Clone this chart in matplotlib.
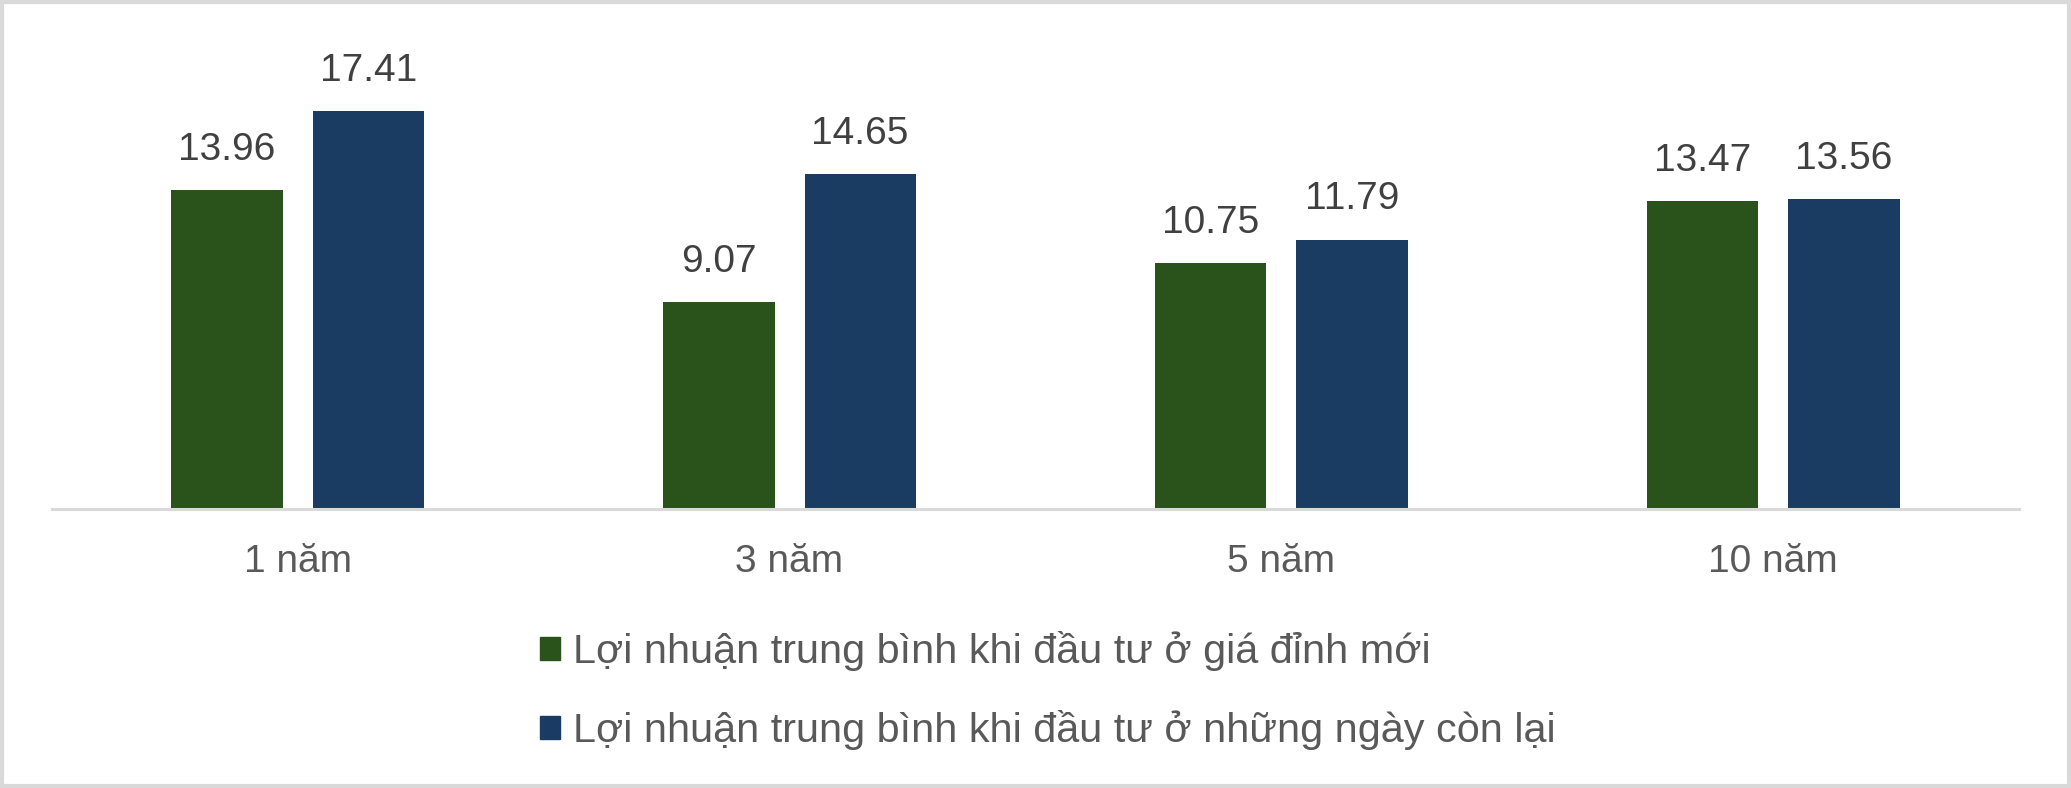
import matplotlib
matplotlib.use("Agg")
import matplotlib.pyplot as plt
from matplotlib.patches import Patch, Rectangle
import numpy as np

plt.rcParams['font.family'] = ['Liberation Sans', 'DejaVu Sans']

categories = ["1 năm", "3 năm", "5 năm", "10 năm"]
series_names = ["Lợi nhuận trung bình khi đầu tư ở giá đỉnh mới",
                "Lợi nhuận trung bình khi đầu tư ở những ngày còn lại"]
peak_values = [13.96, 9.07, 10.75, 13.47]
other_values = [17.41, 14.65, 11.79, 13.56]
colors = ["#29531a", "#1a3c62"]

W, H = 2071, 788
fig = plt.figure(figsize=(W/100, H/100), dpi=100)
left, right, base, top = 51.7, 2019.3, 509, 52
ax = fig.add_axes([left/W, 1-base/H, (right-left)/W, (base-top)/H])

x = np.arange(len(categories))
w = 0.226
gap = 0.061
off = (w + gap) / 2
for vals, col, sgn in [(peak_values, colors[0], -1), (other_values, colors[1], 1)]:
    bars = ax.bar(x + sgn*off, vals, width=w, color=col)
    for b, v in zip(bars, vals):
        ax.annotate(f"{v:.2f}", (b.get_x()+b.get_width()/2, v), xytext=(0, 16),
                    textcoords="offset points", ha="center", va="bottom",
                    fontsize=28, color="#404040")

ax.set_xlim(-0.5, len(categories)-0.5)
ax.set_ylim(0, 20)
ax.set_xticks(x)
ax.set_xticklabels(categories, fontsize=28, color="#595959")
ax.tick_params(axis='x', length=0, pad=25)
ax.set_yticks([])
for s in ["top", "right", "left"]:
    ax.spines[s].set_visible(False)
ax.spines["bottom"].set_color("#d9d9d9")
ax.spines["bottom"].set_linewidth(2.2)

handles = [Patch(color=c) for c in colors]
leg = fig.legend(handles, series_names, loc="upper left", bbox_to_anchor=(540/W, 1-631/H),
                 frameon=False, fontsize=29.8, handlelength=0.49, handleheight=0.5,
                 handletextpad=0.3, labelspacing=0.95, borderaxespad=0, borderpad=0)
for t in leg.get_texts():
    t.set_color("#595959")

fig.patches.append(Rectangle((0.001, 0.002), 0.998, 0.996, transform=fig.transFigure,
                             fill=False, edgecolor="#d9d9d9", linewidth=3))

fig.savefig("out.png", dpi=100, facecolor="white")
